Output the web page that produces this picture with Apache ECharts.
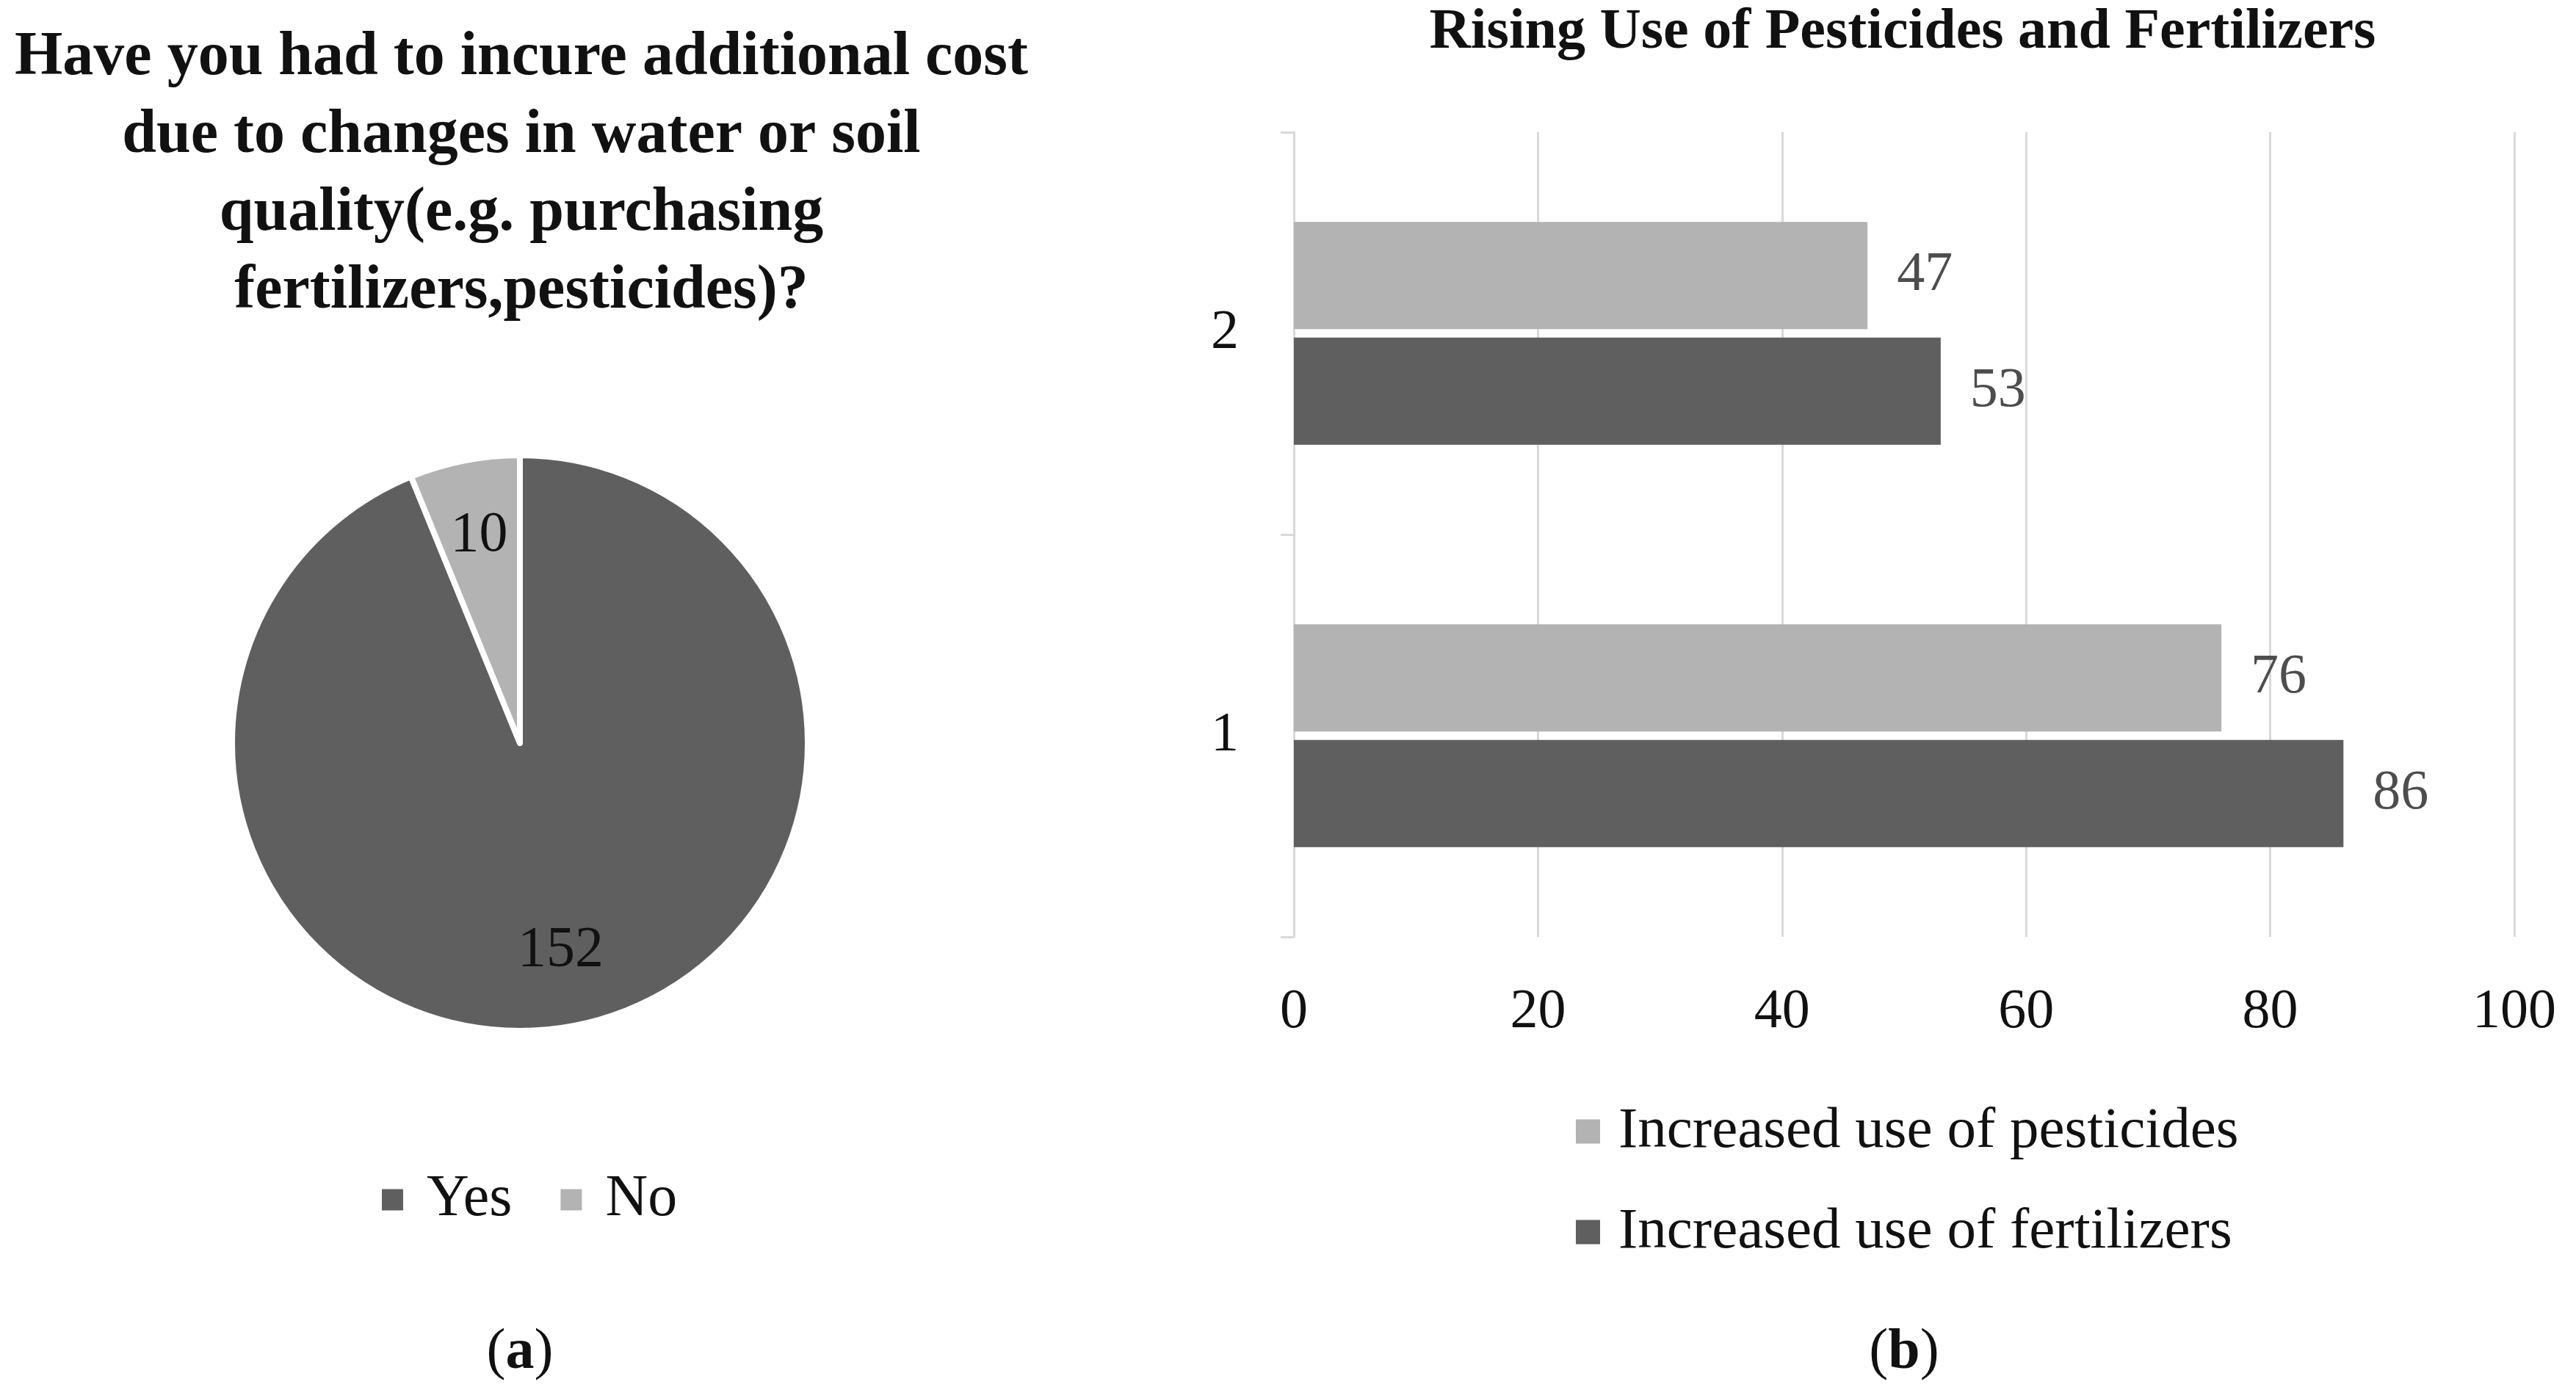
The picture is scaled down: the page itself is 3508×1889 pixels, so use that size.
<!DOCTYPE html>
<html>
<head>
    <meta charset="utf-8">
    <title>Costs and input use</title>
    <style>
        html, body { margin: 0; padding: 0; background: #fff; }
        #main { width: 3508px; height: 1889px; }
    </style>
</head>
<body>
    <div id="main"></div>
    <script src="https://cdn.jsdelivr.net/npm/echarts@6/dist/echarts.min.js"></script>
    <script>
    // pie (a)
    var pieNames = ['Yes', 'No'];
    var pieValues = [152, 10];
    var pieColors = ['#5f5f5f', '#b3b3b3'];

    // bars (b)
    var barCategories = ['1', '2'];
    var pesticides = [76, 47];
    var fertilizers = [86, 53];
    var xTicks = [0, 20, 40, 60, 80, 100];

    var FONT = '"Liberation Serif", "DejaVu Serif", serif';
    var DARK = '#5f5f5f', LIGHT = '#b3b3b3', GRID = '#d9d9d9';

    var pieData = pieNames.map(function(n, i) {
        return { name: n, value: pieValues[i], itemStyle: { color: pieColors[i] } };
    });

    // caption like "(a)": plain brackets, bold letter
    function caption(letter, x) {
        return {
            text: '{p|(}{b|' + letter + '}{p|)}',
            left: x, top: 1798, padding: 0,
            textAlign: 'center',
            textStyle: {
                rich: {
                    p: { fontFamily: FONT, fontSize: 78, lineHeight: 90, fontWeight: 'normal', color: '#111' },
                    b: { fontFamily: FONT, fontSize: 78, lineHeight: 90, fontWeight: 'bold', color: '#111' }
                }
            }
        };
    }

    var myChart = echarts.init(document.getElementById('main'));

    var option = {
        animation: false,
        backgroundColor: '#fff',
        textStyle: { fontFamily: FONT },
        title: [{
            text: 'Have you had to incure additional cost\ndue to changes in water or soil\nquality(e.g. purchasing\nfertilizers,pesticides)?',
            left: 710, top: 26, padding: 0,
            textAlign: 'center',
            textStyle: { fontFamily: FONT, fontWeight: 'bold', fontSize: 84, lineHeight: 106, color: '#111' }
        }, {
            text: 'Rising Use of Pesticides and Fertilizers',
            left: 2591, top: 2, padding: 0,
            textAlign: 'center',
            textStyle: { fontFamily: FONT, fontWeight: 'bold', fontSize: 78, lineHeight: 86, color: '#111' }
        }, caption('a', 708), caption('b', 2593)],
        legend: [{
            data: pieNames,
            left: 518, top: 1588,
            padding: 0,
            icon: 'rect',
            itemWidth: 31, itemHeight: 31, itemGap: 64,
            textStyle: { fontFamily: FONT, fontSize: 80, lineHeight: 92, color: '#111', padding: [0, 0, 0, 26] }
        }, {
            data: ['Increased use of pesticides', 'Increased use of fertilizers'],
            orient: 'vertical',
            left: 2146, top: 1495,
            padding: 0,
            icon: 'rect',
            itemWidth: 33, itemHeight: 33, itemGap: 45,
            textStyle: { fontFamily: FONT, fontSize: 79, lineHeight: 92, color: '#111', padding: [0, 0, 0, 20] }
        }],
        grid: { left: 1762, right: 84, top: 180, bottom: 613, containLabel: false },
        xAxis: {
            type: 'value',
            min: xTicks[0], max: xTicks[xTicks.length - 1], interval: xTicks[1] - xTicks[0],
            axisLine: { show: false },
            axisTick: { show: false },
            splitLine: { show: true, lineStyle: { color: GRID, width: 3 } },
            axisLabel: { fontFamily: FONT, fontSize: 76, color: '#111', margin: 65 }
        },
        yAxis: {
            type: 'category',
            data: barCategories,
            axisLine: { show: true, lineStyle: { color: GRID, width: 3 } },
            axisTick: { show: true, length: 18, lineStyle: { color: GRID, width: 3 } },
            axisLabel: { fontFamily: FONT, fontSize: 76, color: '#111', margin: 75 }
        },
        series: [{
            name: 'pie',
            type: 'pie',
            center: [708, 1012],
            radius: 392,
            startAngle: 90,
            clockwise: true,
            silent: true,
            data: pieData,
            itemStyle: { borderColor: '#fff', borderWidth: 8 },
            label: { show: false },
            labelLine: { show: false }
        }, {
            name: 'pieLabels',
            type: 'pie',
            center: [708, 1012],
            radius: [180, 390],
            startAngle: 90,
            clockwise: true,
            silent: true,
            data: pieNames.map(function(n, i) { return { name: n, value: pieValues[i] }; }),
            itemStyle: { color: 'rgba(0,0,0,0)' },
            label: {
                show: true, position: 'inside', formatter: '{c}',
                fontFamily: FONT, fontSize: 78, color: '#111'
            },
            labelLine: { show: false }
        }, {
            name: 'Increased use of pesticides',
            type: 'bar',
            data: pesticides,
            itemStyle: { color: LIGHT },
            barCategoryGap: '44.6%',
            barGap: '8%',
            label: { show: true, position: 'right', distance: 40, fontFamily: FONT, fontSize: 76, color: '#4d4d4d' }
        }, {
            name: 'Increased use of fertilizers',
            type: 'bar',
            data: fertilizers,
            itemStyle: { color: DARK },
            barCategoryGap: '44.6%',
            barGap: '8%',
            label: { show: true, position: 'right', distance: 40, fontFamily: FONT, fontSize: 76, color: '#4d4d4d' }
        }]
    };

    myChart.setOption(option);
    addEventListener('resize', myChart.resize);
    </script>
</body>
</html>
